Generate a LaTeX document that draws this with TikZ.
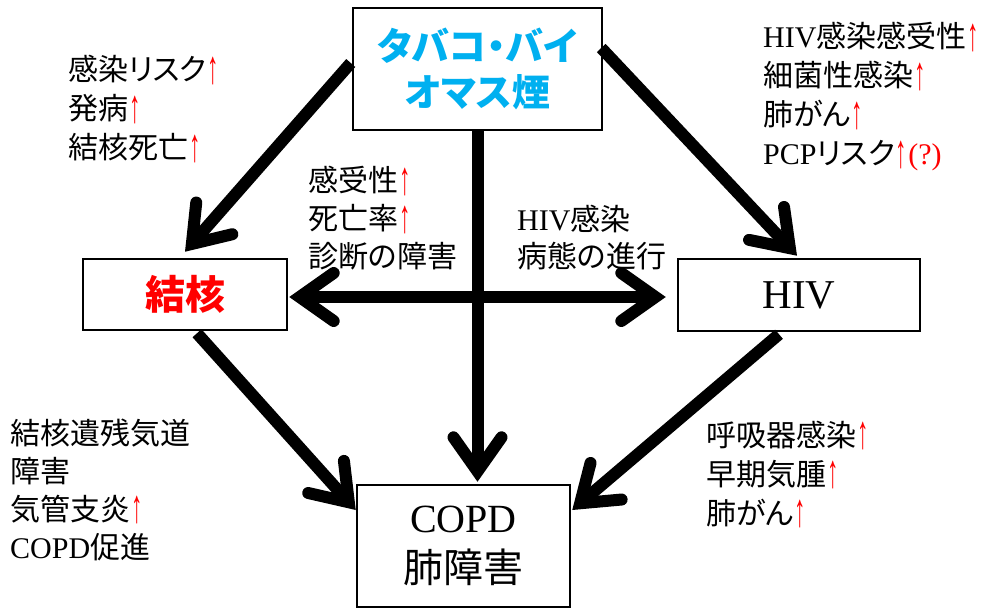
\documentclass[tikz,border=0pt]{standalone}
\usepackage{fontspec}
\usepackage{graphicx}
\setmainfont{Liberation Serif}
\newfontfamily\jp{Noto Sans CJK JP}[RawFeature=+palt]
\usetikzlibrary{arrows.meta,calc}
\definecolor{tobcyan}{HTML}{00B0F0}
\newcommand\redup{\textcolor{red}{\rmfamily\kern0.03em\raisebox{-0.08em}{\resizebox{0.38em}{0.88em}{↑}}\kern0.03em}}
\newcommand\lblines[1]{\begin{tabular}[t]{@{}l@{}}#1\end{tabular}}
\tikzset{
  box/.style={draw, line width=2.5pt, fill=white, inner sep=0pt},
  lbl/.style={anchor=base west, inner sep=0pt},
  barb/.tip={Straight Barb[length=34pt,width=48pt,line cap=round]},
  bigarrow/.style={line width=12pt, -barb},
  bigdarrow/.style={line width=12pt, barb-barb},
}
\begin{document}
\begin{tikzpicture}[x=1pt,y=-1pt]
\useasboundingbox (0,0) rectangle (1003,609);
% boxes
\node[box, minimum width=249pt, minimum height=122pt, align=center,
      font={\fontsize{38pt}{46pt}\selectfont\jp\bfseries}, text=tobcyan]
  (tob) at (477.5,69) {タバコ・バイ\\オマス煙};
\node[box, minimum width=204pt, minimum height=71pt,
      font={\fontsize{40pt}{48pt}\selectfont\jp\bfseries}, text=red]
  (tb) at (185,294.5) {結核};
\node[box, minimum width=242pt, minimum height=72pt,
      font={\fontsize{41pt}{48pt}\selectfont}]
  (hiv) at (799,295) {HIV};
\node[box, minimum width=213pt, minimum height=122pt, align=center,
      font={\fontsize{40pt}{50pt}\selectfont}]
  (copd) at (463.5,546) {COPD\\{\jp 肺障害}};
% arrows
\draw[bigarrow] ($(tob.west)+(-1,-6)$) -- ($(tb.north)+(0,-6)$);
\draw[bigarrow] ($(tob.east)+(-2,-21)$) -- ($(hiv.north)+(-2,-2)$);
\draw[bigarrow, shorten >=2pt] (tob.south) -- (tob.south |- copd.north);
\draw[bigdarrow] ($(tb.east)+(1,2.5)$) -- ($(hiv.west)+(-11,2)$);
\draw[bigarrow] ($(tb.south)+(12,2)$) -- ($(copd.west)+(0,-36)$);
\draw[bigarrow] ($(hiv.south)+(-20,2)$) -- ($(copd.east)+(1,-36)$);
% labels
\node[lbl, font={\fontsize{30pt}{39pt}\selectfont}] (ul) at (68,81)
  {\lblines{{\jp 感染リスク}\redup\\{\jp 発病}\redup\\{\jp 結核死亡}\redup}};
\node[lbl, font={\fontsize{30pt}{39pt}\selectfont}] (ur) at (763,48)
  {\lblines{HIV{\jp 感染感受性}\redup\\{\jp 細菌性感染}\redup\\{\jp 肺がん}\redup\\PCP{\jp リスク}\redup\textcolor{red}{(?)}}};
\node[lbl, font={\fontsize{30pt}{38pt}\selectfont}] (ml) at (308,192)
  {\lblines{{\jp 感受性}\redup\\{\jp 死亡率}\redup\\{\jp 診断の障害}}};
\node[lbl, font={\fontsize{30pt}{37pt}\selectfont}] (mr) at (517,231)
  {\lblines{HIV{\jp 感染}\\{\jp 病態の進行}}};
\node[lbl, font={\fontsize{30pt}{38pt}\selectfont}] (ll) at (10,444)
  {\lblines{{\jp 結核遺残気道}\\{\jp 障害}\\{\jp 気管支炎}\redup\\COPD{\jp 促進}}};
\node[lbl, font={\fontsize{30pt}{39pt}\selectfont}] (lr) at (706,446)
  {\lblines{{\jp 呼吸器感染}\redup\\{\jp 早期気腫}\redup\\{\jp 肺がん}\redup}};
\end{tikzpicture}
\end{document}
